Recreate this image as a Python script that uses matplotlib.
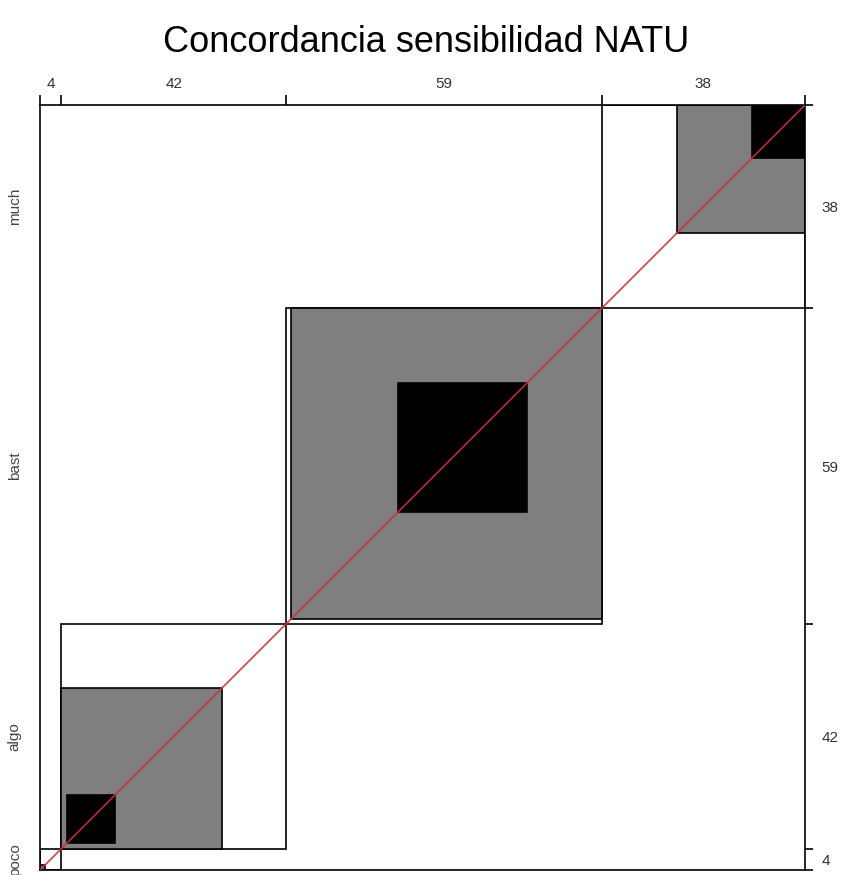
import numpy as np
import matplotlib.pyplot as plt
from matplotlib.patches import Rectangle

plt.rcParams['font.family'] = ['Liberation Sans', 'DejaVu Sans']

# cross table of the two ratings (rows = y rater, columns = x rater)
categories = ['poco', 'algo', 'bast', 'much']
counts = [
    [0, 1, 1, 2],
    [1, 9, 20, 12],
    [1, 20, 24, 14],
    [2, 12, 14, 10],
]
title = 'Concordancia sensibilidad NATU'

tab = np.array(counts)
n = len(categories)
col_tot = tab.sum(axis=0)
row_tot = tab.sum(axis=1)
x0 = np.concatenate([[0], np.cumsum(col_tot)])
y0 = np.concatenate([[0], np.cumsum(row_tot)])
total = tab.sum()

fig = plt.figure(figsize=(8.46, 8.75), dpi=100)
ax = fig.add_axes([40 / 846, 5 / 875, 765 / 846, 765 / 875])
ax.set_xlim(0, total)
ax.set_ylim(0, total)

lw = 1.2
for i in range(n):
    # marginal rectangle
    ax.add_patch(Rectangle((x0[i], y0[i]), col_tot[i], row_tot[i],
                           facecolor='white', edgecolor='black', lw=lw, zorder=1))
    # partial agreement (band 1) in grey, exact agreement in black
    for band, col in [(1, '#7f7f7f'), (0, 'black')]:
        lo = max(0, i - band)
        hi = min(n - 1, i + band)
        xs = x0[i] + tab[:lo, i].sum()
        ys = y0[i] + tab[i, :lo].sum()
        w = tab[lo:hi + 1, i].sum()
        h = tab[i, lo:hi + 1].sum()
        ax.add_patch(Rectangle((xs, ys), w, h, facecolor=col,
                               edgecolor='black', lw=lw, zorder=2))

ax.plot([0, total], [0, total], color='#cc3333', lw=1.3, alpha=0.85, zorder=3)

for s in ax.spines.values():
    s.set_linewidth(lw)

# marginal totals on top and right
ax.xaxis.set_ticks_position('top')
ax.set_xticks(x0)
ax.set_xticklabels([])
ax.set_xticks((x0[:-1] + x0[1:]) / 2, minor=True)
ax.set_xticklabels([str(v) for v in col_tot], minor=True, fontsize=11, color='#333333')
ax.tick_params(axis='x', which='major', length=7, width=lw, direction='out')
ax.tick_params(axis='x', which='minor', length=0, pad=10)

ax.yaxis.set_ticks_position('right')
ax.set_yticks(y0)
ax.set_yticklabels([])
ax.set_yticks((y0[:-1] + y0[1:]) / 2, minor=True)
ax.set_yticklabels([str(v) for v in row_tot], minor=True, fontsize=11, color='#333333')
ax.tick_params(axis='y', which='major', length=6, width=lw, direction='out')
ax.tick_params(axis='y', which='minor', length=0, pad=12)

# category names on the left
for name, c in zip(categories, (y0[:-1] + y0[1:]) / 2):
    ax.text(-4.7, c, name, rotation=90, ha='center', va='center',
            fontsize=11, color='#444444', clip_on=False)

fig.text(426 / 846, 1 - 42 / 875, title, ha='center', va='center', fontsize=26)

fig.savefig('out.png', dpi=100)
